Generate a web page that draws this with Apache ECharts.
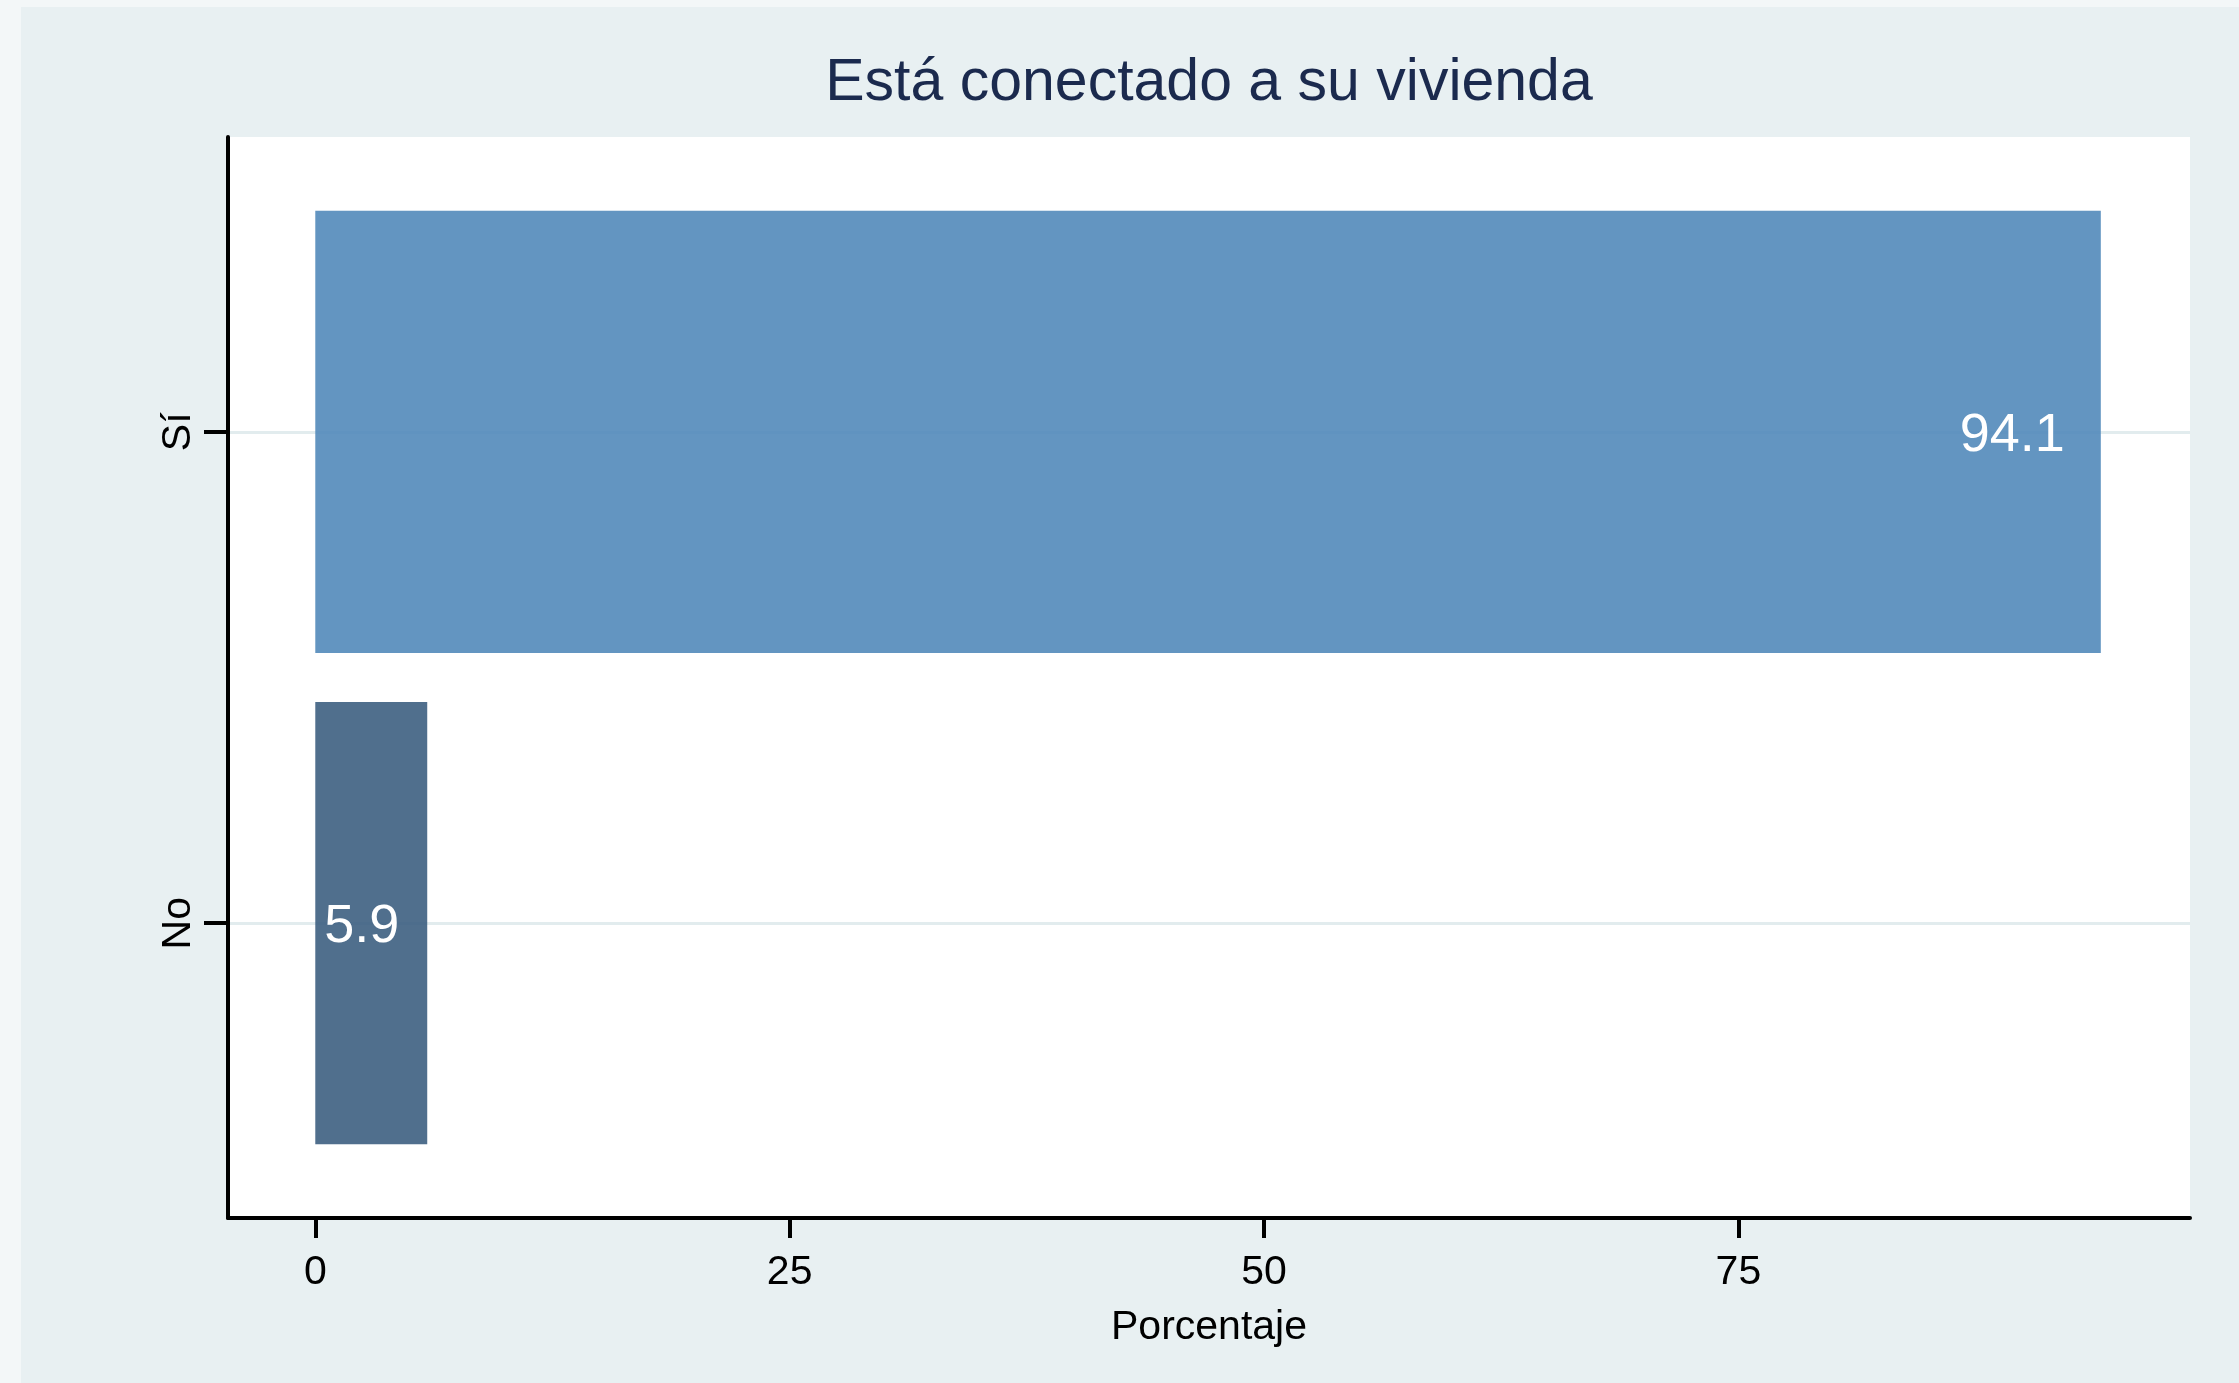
<!DOCTYPE html>
<html>
<head>
    <meta charset="utf-8" />
    <title>Está conectado a su vivienda</title>
    <script src="https://cdn.jsdelivr.net/npm/echarts@6.0.0/dist/echarts.min.js"></script>
    <style>
        * {
            margin: 0;
            padding: 0;
            box-sizing: border-box;
        }

        html, body {
            width: 100%;
            height: 100%;
            background: #f3f7f8;
            overflow: hidden;
        }

        #chart {
            position: absolute;
            left: 21px;
            top: 7px;
            right: 0;
            bottom: 0;
            background: #e8f0f2;
        }
    </style>
</head>
<body>
    <div id="chart"></div>

    <script>
        // datos
        const categories = ['No', 'Sí'];
        const percentages = [5.9, 94.1];
        const barColors = ['#3d5f81', '#528aba'];
        const xTicks = [0, 25, 50, 75];

        const chartDom = document.getElementById('chart');
        const myChart = echarts.init(chartDom);

        const font = "'Liberation Sans', Arial, sans-serif";

        // [valor, posición de la categoría]
        const barData = percentages.map(function (v, i) {
            return [v, i];
        });

        // barras horizontales dibujadas con las escalas de los ejes
        function renderBar(params, api) {
            const idx = api.value(1);
            const start = api.coord([0, idx]);
            const end = api.coord([api.value(0), idx]);
            const h = api.size([0, 0.9])[1];
            return {
                type: 'group',
                children: [
                    {
                        type: 'rect',
                        shape: {
                            x: start[0],
                            y: start[1] - h / 2,
                            width: end[0] - start[0],
                            height: h
                        },
                        style: {
                            fill: barColors[idx],
                            opacity: 0.9
                        }
                    },
                    {
                        type: 'text',
                        x: end[0] - (idx === 1 ? 36 : 28),
                        y: end[1] + 4,
                        style: {
                            text: api.value(0).toFixed(1),
                            fill: '#ffffff',
                            font: '54px ' + font,
                            align: 'right',
                            verticalAlign: 'middle'
                        }
                    }
                ]
            };
        }

        const option = {
            backgroundColor: '#e8f0f2',
            animation: false,
            title: {
                text: 'Está conectado a su vivienda',
                left: 1188,
                top: 47,
                textAlign: 'center',
                padding: 0,
                textStyle: {
                    color: '#1b2a4e',
                    fontSize: 59,
                    fontWeight: 'normal',
                    fontFamily: font
                }
            },
            grid: {
                left: 207,
                right: 49,
                top: 130,
                bottom: 165,
                show: true,
                backgroundColor: '#ffffff',
                borderWidth: 0,
                outerBoundsMode: 'none'
            },
            xAxis: {
                type: 'value',
                min: -4.6,
                max: 98.8,
                name: 'Porcentaje',
                nameLocation: 'middle',
                nameGap: 89,
                nameTextStyle: {
                    color: '#000',
                    fontSize: 41,
                    fontFamily: font
                },
                axisLine: {
                    show: true,
                    onZero: false,
                    lineStyle: { color: '#000', width: 4 }
                },
                axisTick: {
                    show: true,
                    length: 20,
                    customValues: xTicks,
                    lineStyle: { color: '#000', width: 4 }
                },
                axisLabel: {
                    customValues: xTicks,
                    margin: 34,
                    color: '#000',
                    fontSize: 41,
                    fontFamily: font
                },
                splitLine: { show: false }
            },
            yAxis: {
                type: 'value',
                min: -0.6,
                max: 1.6,
                axisLine: {
                    show: true,
                    onZero: false,
                    lineStyle: { color: '#000', width: 4 }
                },
                axisTick: {
                    show: true,
                    length: 24,
                    customValues: [0, 1],
                    lineStyle: { color: '#000', width: 4 }
                },
                axisLabel: {
                    customValues: [0, 1],
                    rotate: 90,
                    margin: 29,
                    color: '#000',
                    fontSize: 41,
                    fontFamily: font,
                    formatter: function (v) {
                        return categories[Math.round(v)];
                    }
                },
                splitLine: {
                    show: true,
                    lineStyle: { color: '#e2ecee', width: 3 }
                }
            },
            series: [
                {
                    type: 'custom',
                    renderItem: renderBar,
                    data: barData,
                    encode: { x: 0, y: 1 },
                    clip: true
                }
            ]
        };

        myChart.setOption(option);

        window.addEventListener('resize', function () {
            myChart.resize();
        });
    </script>
</body>
</html>
